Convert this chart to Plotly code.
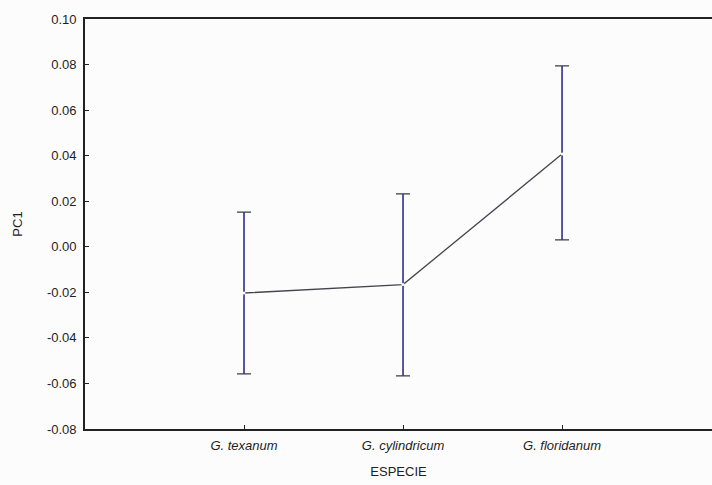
import plotly.graph_objects as go

# Species and PC1 means with confidence intervals
species = ["G. texanum", "G. cylindricum", "G. floridanum"]
pc1_mean = [-0.0203, -0.0166, 0.0407]
ci_upper = [0.0355, 0.0398, 0.0387]
ci_lower = [0.0355, 0.0401, 0.0377]

y_ticks = [-0.08, -0.06, -0.04, -0.02, 0.00, 0.02, 0.04, 0.06, 0.08, 0.10]
y_tick_text = [f"{v:.2f}".replace("\u2212", "-") for v in y_ticks]

x_pos = list(range(len(species)))

fig = go.Figure()

# Caps of the interval whiskers (dark grey)
fig.add_trace(go.Scatter(
    x=x_pos, y=pc1_mean, mode="markers",
    marker=dict(size=0.1, color="rgba(0,0,0,0)"),
    error_y=dict(type="data", symmetric=False, array=ci_upper, arrayminus=ci_lower,
                 color="#3a3a48", thickness=1.3, width=7),
    showlegend=False, hoverinfo="skip",
))
# Blue whisker stems
fig.add_trace(go.Scatter(
    x=x_pos, y=pc1_mean, mode="markers",
    marker=dict(size=0.1, color="rgba(0,0,0,0)"),
    error_y=dict(type="data", symmetric=False, array=ci_upper, arrayminus=ci_lower,
                 color="#3a3ab8", thickness=1.1, width=0),
    showlegend=False, hoverinfo="skip",
))
# Line joining the species means
fig.add_trace(go.Scatter(
    x=x_pos, y=pc1_mean, mode="lines+markers",
    line=dict(color="#44444f", width=1.3),
    marker=dict(size=3, color="white", line=dict(width=0)),
    showlegend=False,
))

fig.update_layout(
    width=712, height=485,
    margin=dict(l=85, r=0, t=19, b=56),
    paper_bgcolor="#fcfcfc", plot_bgcolor="#fcfcfc",
    font=dict(family="Liberation Sans, Arial, sans-serif", size=13, color="#1e1e1e"),
    xaxis=dict(
        range=[-1, 2.943], tickvals=x_pos,
        ticktext=[f"<i>{s}</i>" for s in species],
        showgrid=False, zeroline=False,
        showline=True, linecolor="#222", linewidth=1.6, mirror=True,
        ticks="inside", ticklen=4, tickcolor="#222", tickwidth=1.2,
        ticklabelstandoff=4,
        title=dict(text="ESPECIE", standoff=14, font=dict(size=13)),
    ),
    yaxis=dict(
        range=[-0.08, 0.10], tickvals=y_ticks, ticktext=y_tick_text,
        showgrid=False, zeroline=False,
        showline=True, linecolor="#222", linewidth=1.6, mirror=False,
        ticks="inside", ticklen=4, tickcolor="#222", tickwidth=1.2,
        ticklabelstandoff=4,
        title=dict(text="PC1", standoff=21, font=dict(size=13)),
    ),
)

fig.write_html("out.html")
